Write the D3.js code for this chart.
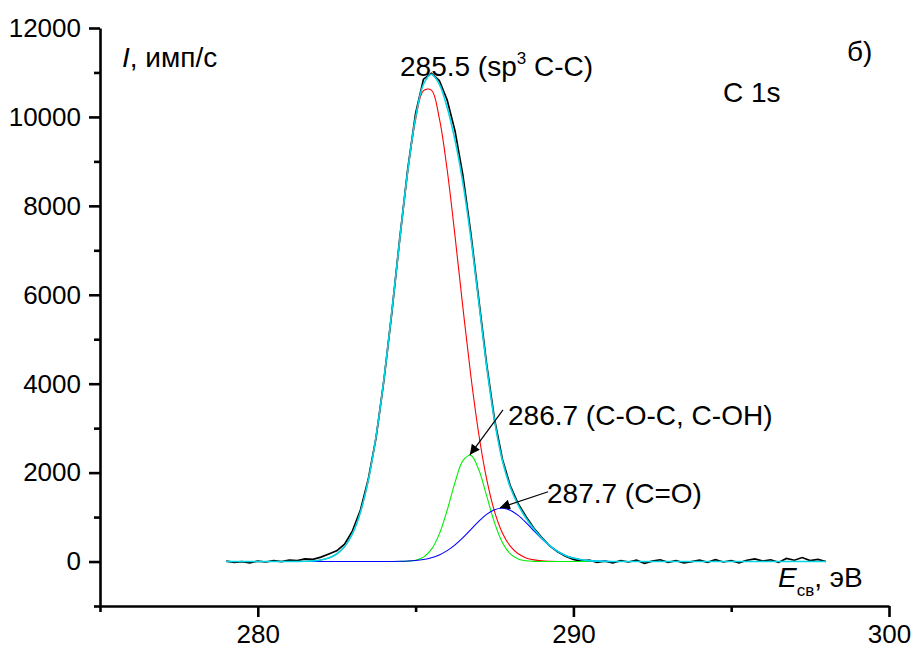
<!DOCTYPE html>
<html>
<head>
<meta charset="utf-8">
<script src="https://cdn.jsdelivr.net/npm/d3@7"></script>
<style>
body { margin: 0; background: #fff; }
text { font-family: Arial, "Liberation Sans", sans-serif; fill: #000; }
</style>
</head>
<body>
<svg id="drawing_region"></svg>
<script>
// energy grid: 279 .. 298 eV, step 0.25
const eStart = 279, eStep = 0.25;

// measured spectrum, counts/s
const measured = [
    10, -20, 0, -30, 10, -10, 20, 0, 30, 20,
    60, 50, 100, 170, 240, 390, 690, 1150, 1850, 2800,
    4100, 5620, 7280, 8820, 10080, 10850, 10980, 10820, 10380, 9680,
    8680, 7380, 5900, 4440, 3200, 2300, 1700, 1300, 1010, 750,
    540, 350, 220, 120, 50, 10, 30, -20, 10, -30,
    20, -10, 30, -40, 10, 40, -20, 20, -30, 0,
    30, -20, 40, -10, 20, -30, 30, 60, 10, 40,
    -20, 70, 30, 90, 20, 50, 0
];

// fitted components
const peakCC = [
    0, 0, 0, 0, 0, 0, 0, 0, 0, 2,
    6, 15, 35, 80, 169, 336, 629, 1105, 1824, 2829,
    4121, 5640, 7251, 8758, 9936, 10590, 10603, 9973, 8812, 7315,
    5704, 4178, 2875, 1859, 1129, 644, 345, 174, 82, 37,
    15, 6, 2, 1, 0, 0, 0, 0, 0, 0,
    0, 0, 0, 0, 0, 0, 0, 0, 0, 0,
    0, 0, 0, 0, 0, 0, 0, 0, 0, 0,
    0, 0, 0, 0, 0, 0, 0
];
const peakCOC = [
    0, 0, 0, 0, 0, 0, 0, 0, 0, 0,
    0, 0, 0, 0, 0, 0, 0, 0, 0, 0,
    0, 0, 2, 7, 30, 99, 272, 616, 1153, 1782,
    2270, 2387, 2070, 1481, 874, 426, 171, 57, 16, 4,
    1, 0, 0, 0, 0, 0, 0, 0, 0, 0,
    0, 0, 0, 0, 0, 0, 0, 0, 0, 0,
    0, 0, 0, 0, 0, 0, 0, 0, 0, 0,
    0, 0, 0, 0, 0, 0, 0
];
const peakCO = [
    0, 0, 0, 0, 0, 0, 0, 0, 0, 0,
    0, 0, 0, 0, 0, 0, 0, 0, 0, 0,
    1, 2, 5, 11, 23, 46, 85, 149, 245, 375,
    537, 720, 904, 1062, 1167, 1200, 1154, 1039, 876, 690,
    509, 352, 227, 137, 78, 41, 20, 9, 4, 2,
    1, 0, 0, 0, 0, 0, 0, 0, 0, 0,
    0, 0, 0, 0, 0, 0, 0, 0, 0, 0,
    0, 0, 0, 0, 0, 0, 0
];
const envelope = [
    0, 0, 0, 0, 0, 0, 0, 0, 0, 2,
    6, 15, 35, 80, 169, 336, 629, 1105, 1824, 2829,
    4122, 5642, 7258, 8776, 9989, 10735, 10960, 10738, 10210, 9472,
    8511, 7285, 5849, 4402, 3170, 2270, 1670, 1270, 974, 731,
    525, 358, 229, 138, 78, 41, 20, 9, 4, 2,
    1, 0, 0, 0, 0, 0, 0, 0, 0, 0,
    0, 0, 0, 0, 0, 0, 0, 0, 0, 0,
    0, 0, 0, 0, 0, 0, 0
];

const xTicks = [280, 290, 300];
const xMinorTicks = [275, 285, 295];
const yTicks = [0, 2000, 4000, 6000, 8000, 10000, 12000];
const yMinorTicks = [-1000, 1000, 3000, 5000, 7000, 9000, 11000];

const config = {
    width: 913,
    height: 653,
    margin: {top: 28, right: 24, bottom: 47, left: 100}
};

const svg = d3.select('#drawing_region')
    .attr('width', config.width)
    .attr('height', config.height);

const inner_width = config.width - config.margin.left - config.margin.right;
const inner_height = config.height - config.margin.top - config.margin.bottom;

const chart = svg.append('g')
    .attr('transform', `translate(${config.margin.left}, ${config.margin.top})`);

const xscale = d3.scaleLinear().domain([275, 300]).range([0, inner_width]);
const yscale = d3.scaleLinear().domain([-1000, 12000]).range([inner_height, 0]);

const energy = measured.map((d, i) => eStart + i * eStep);

// curves
const fitLine = d3.line()
    .x((d, i) => xscale(energy[i]))
    .y(d => yscale(d))
    .curve(d3.curveCatmullRom);

const rawLine = d3.line()
    .x((d, i) => xscale(energy[i]))
    .y(d => yscale(d));

chart.append('path')
    .attr('d', rawLine(measured))
    .attr('fill', 'none').attr('stroke', '#000').attr('stroke-width', 1.7);

const components = [
    {values: peakCC, color: '#ff0000'},
    {values: peakCOC, color: '#00ee00'},
    {values: peakCO, color: '#0000ff'}
];
components.forEach(c => {
    chart.append('path')
        .attr('d', fitLine(c.values))
        .attr('fill', 'none').attr('stroke', c.color).attr('stroke-width', 1.1);
});

chart.append('path')
    .attr('d', fitLine(envelope))
    .attr('fill', 'none').attr('stroke', '#00d8e8').attr('stroke-width', 1.6);

// axes
chart.append('g')
    .attr('transform', `translate(0, ${inner_height})`)
    .call(d3.axisBottom(xscale).tickValues(xTicks).tickSize(11).tickSizeOuter(0).tickPadding(8).tickFormat(d3.format('d')));
chart.append('g')
    .attr('transform', `translate(0, ${inner_height})`)
    .call(d3.axisBottom(xscale).tickValues(xMinorTicks).tickSize(6).tickSizeOuter(0).tickFormat(''))
    .select('.domain').remove();

chart.append('g')
    .call(d3.axisLeft(yscale).tickValues(yTicks).tickSize(11).tickSizeOuter(0).tickPadding(8).tickFormat(d3.format('d')));
chart.append('g')
    .call(d3.axisLeft(yscale).tickValues(yMinorTicks).tickSize(6).tickSizeOuter(0).tickFormat(''))
    .select('.domain').remove();

chart.selectAll('.domain').attr('stroke-width', 2.6).attr('stroke', '#000');
chart.selectAll('.tick line').attr('stroke-width', 2.6).attr('stroke', '#000');
chart.selectAll('.tick text')
    .style('font-family', 'Arial, "Liberation Sans", sans-serif')
    .attr('font-size', 26).attr('fill', '#000');

// axis titles
const ylab = svg.append('text').attr('x', 122).attr('y', 67).attr('font-size', 28);
ylab.append('tspan').attr('font-style', 'italic').text('I');
ylab.append('tspan').text(', имп/с');

const xlab = svg.append('text').attr('x', 778).attr('y', 587).attr('font-size', 28);
xlab.append('tspan').attr('font-style', 'italic').text('E');
xlab.append('tspan').attr('font-size', 17).attr('dy', 9).text('св');
xlab.append('tspan').attr('dy', -9).text(', эВ');

svg.append('text').attr('x', 847).attr('y', 61).attr('font-size', 28).text('б)');
svg.append('text').attr('x', 723).attr('y', 102).attr('font-size', 28).text('C 1s');

// peak labels
const lab1 = svg.append('text').attr('x', 400).attr('y', 76).attr('font-size', 28);
lab1.append('tspan').text('285.5 (sp');
lab1.append('tspan').attr('font-size', 17).attr('dy', -12).text('3');
lab1.append('tspan').attr('dy', 12).text(' C-C)');

svg.append('text').attr('x', 508).attr('y', 425).attr('font-size', 28).text('286.7 (C-O-C, C-OH)');
svg.append('text').attr('x', 547).attr('y', 503).attr('font-size', 28).text('287.7 (C=O)');

// arrows (data coordinates)
const arrows = [
    {from: [287.77, 3410], to: [286.72, 2400]},
    {from: [289.2, 1570], to: [287.67, 1210]}
];
svg.append('defs').append('marker')
    .attr('id', 'head')
    .attr('viewBox', '0 0 10 10')
    .attr('refX', 10).attr('refY', 5)
    .attr('markerWidth', 17).attr('markerHeight', 10)
    .attr('markerUnits', 'userSpaceOnUse')
    .attr('orient', 'auto')
    .append('path').attr('d', 'M0,0 L10,5 L0,10 Z').attr('fill', '#000');

arrows.forEach(a => {
    chart.append('line')
        .attr('x1', xscale(a.from[0])).attr('y1', yscale(a.from[1]))
        .attr('x2', xscale(a.to[0])).attr('y2', yscale(a.to[1]))
        .attr('stroke', '#000').attr('stroke-width', 1.2)
        .attr('marker-end', 'url(#head)');
});
</script>
</body>
</html>
